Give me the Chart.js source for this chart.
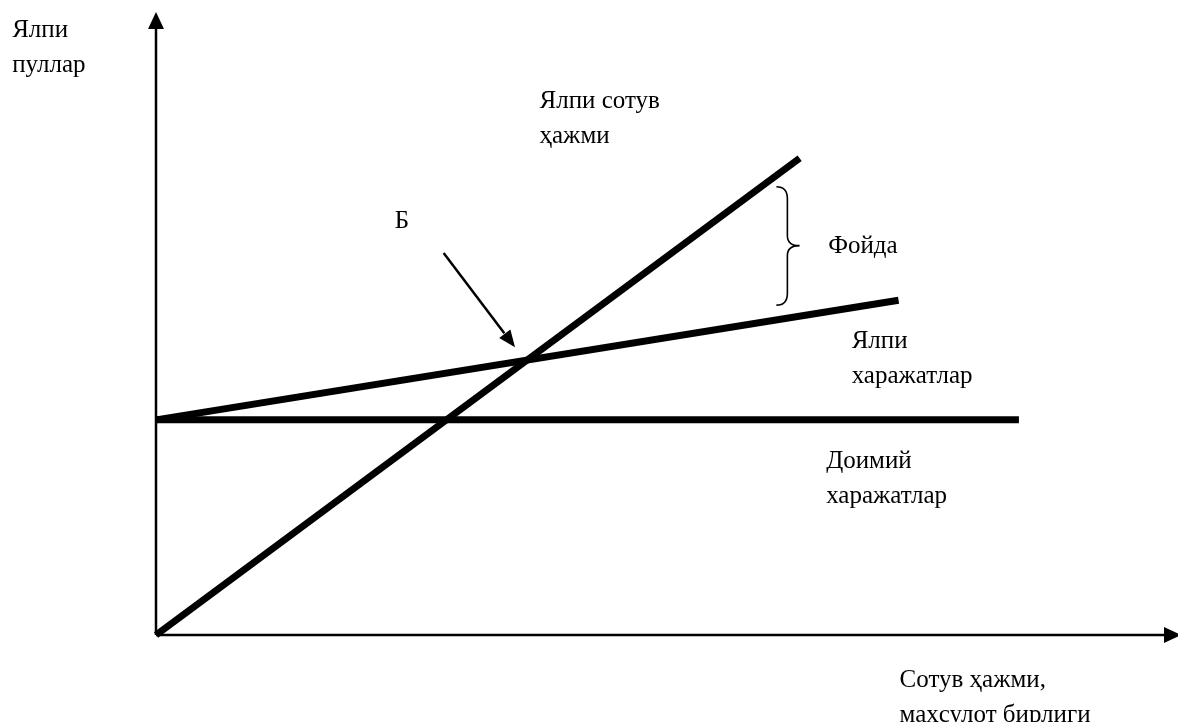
<!DOCTYPE html>
<html>
<head>
<meta charset="utf-8">
<title>Зарарсизлик нуқтаси</title>
<script src="https://cdn.jsdelivr.net/npm/chart.js@4/dist/chart.umd.min.js"></script>
<style>
    html, body { margin: 0; padding: 0; background: #fff; }
    #wrap { width: 1178px; height: 722px; }
</style>
</head>
<body>
<div id="wrap"><canvas id="breakEven" width="1178" height="722"></canvas></div>
<script>
// values (both axes run 0..100, no units given)
var salesX = [0, 63.1];
var salesY = [0, 76.9];
var totalCostX = [0, 72.8];
var totalCostY = [34.7, 54.0];
var fixedCostX = [0, 84.6];
var fixedCostY = [34.7, 34.7];

var axisMin = 0;
var axisMax = 100;

// text on the picture, first line baseline in data units
var notes = [
    { lines: ['Ялпи', 'пуллар'], x: -14.1, y: 96.5 },
    { lines: ['Ялпи сотув', 'ҳажми'], x: 37.6, y: 85.0 },
    { lines: ['Б'], x: 23.4, y: 65.6 },
    { lines: ['Фойда'], x: 65.9, y: 61.6 },
    { lines: ['Ялпи', 'харажатлар'], x: 68.2, y: 46.3 },
    { lines: ['Доимий', 'харажатлар'], x: 65.7, y: 26.9 },
    { lines: ['Сотув ҳажми,', 'маҳсулот бирлиги'], x: 72.9, y: -8.4 }
];

function toPoints(xs, ys) {
    return xs.map(function (x, i) { return { x: x, y: ys[i] }; });
}

function lineSet(label, xs, ys) {
    return {
        label: label,
        data: toPoints(xs, ys),
        showLine: true,
        borderColor: '#000',
        borderWidth: 7,
        pointRadius: 0,
        borderCapStyle: 'butt',
        clip: false
    };
}

function arrowHead(ctx, x1, y1, x2, y2, len, half) {
    var a = Math.atan2(y2 - y1, x2 - x1);
    ctx.beginPath();
    ctx.moveTo(x2, y2);
    ctx.lineTo(x2 - len * Math.cos(a) + half * Math.sin(a), y2 - len * Math.sin(a) - half * Math.cos(a));
    ctx.lineTo(x2 - len * Math.cos(a) - half * Math.sin(a), y2 - len * Math.sin(a) + half * Math.cos(a));
    ctx.closePath();
    ctx.fill();
}

// axes with arrows, the profit brace, the B pointer and the captions
var drawingPlugin = {
    id: 'drawing',
    afterDatasetsDraw: function (chart) {
        var ctx = chart.ctx;
        var xs = chart.scales.x, ys = chart.scales.y;
        var px = function (v) { return xs.getPixelForValue(v); };
        var py = function (v) { return ys.getPixelForValue(v); };
        var left = px(axisMin), bottom = py(axisMin);

        ctx.save();
        ctx.strokeStyle = '#000';
        ctx.fillStyle = '#000';

        // axes
        ctx.lineWidth = 2.5;
        ctx.beginPath();
        ctx.moveTo(left, bottom);
        ctx.lineTo(left, py(axisMax) + 12);
        ctx.moveTo(left, bottom);
        ctx.lineTo(px(axisMax) - 6, bottom);
        ctx.stroke();
        arrowHead(ctx, left, bottom, left, py(axisMax) - 3, 17, 8);
        arrowHead(ctx, left, bottom, px(axisMax) + 5, bottom, 17, 8);

        // brace between sales and total costs
        var bx = px(61.9), bt = py(72.3), bb = py(53.2), bm = py(62.8), tipX = px(63.1);
        ctx.lineWidth = 1.6;
        ctx.beginPath();
        ctx.moveTo(bx - 11, bt);
        ctx.quadraticCurveTo(bx, bt, bx, bt + 12);
        ctx.lineTo(bx, bm - 10);
        ctx.quadraticCurveTo(bx, bm, tipX, bm);
        ctx.quadraticCurveTo(bx, bm, bx, bm + 10);
        ctx.lineTo(bx, bb - 12);
        ctx.quadraticCurveTo(bx, bb, bx - 11, bb);
        ctx.stroke();

        // pointer to the break-even point
        var ax1 = px(28.2), ay1 = py(61.6), ax2 = px(35.2), ay2 = py(46.4);
        ctx.lineWidth = 2.5;
        ctx.beginPath();
        ctx.moveTo(ax1, ay1);
        ctx.lineTo(ax1 + (ax2 - ax1) * 0.85, ay1 + (ay2 - ay1) * 0.85);
        ctx.stroke();
        arrowHead(ctx, ax1, ay1, ax2, ay2, 17, 7);

        // captions
        ctx.font = '25px "Liberation Serif", "DejaVu Serif", serif';
        ctx.textBaseline = 'alphabetic';
        ctx.textAlign = 'left';
        notes.forEach(function (n) {
            n.lines.forEach(function (t, i) {
                ctx.fillText(t, px(n.x), py(n.y) + i * 35);
            });
        });
        ctx.restore();
    }
};

new Chart(document.getElementById('breakEven'), {
    type: 'scatter',
    data: {
        datasets: [
            lineSet('Ялпи сотув ҳажми', salesX, salesY),
            lineSet('Ялпи харажатлар', totalCostX, totalCostY),
            lineSet('Доимий харажатлар', fixedCostX, fixedCostY)
        ]
    },
    options: {
        responsive: false,
        animation: false,
        devicePixelRatio: 1,
        layout: { padding: { left: 156, right: 2, top: 15, bottom: 87 } },
        scales: {
            x: { type: 'linear', min: axisMin, max: axisMax, display: false },
            y: { type: 'linear', min: axisMin, max: axisMax, display: false }
        },
        plugins: {
            legend: { display: false },
            tooltip: { enabled: false }
        }
    },
    plugins: [drawingPlugin]
});
</script>
</body>
</html>
